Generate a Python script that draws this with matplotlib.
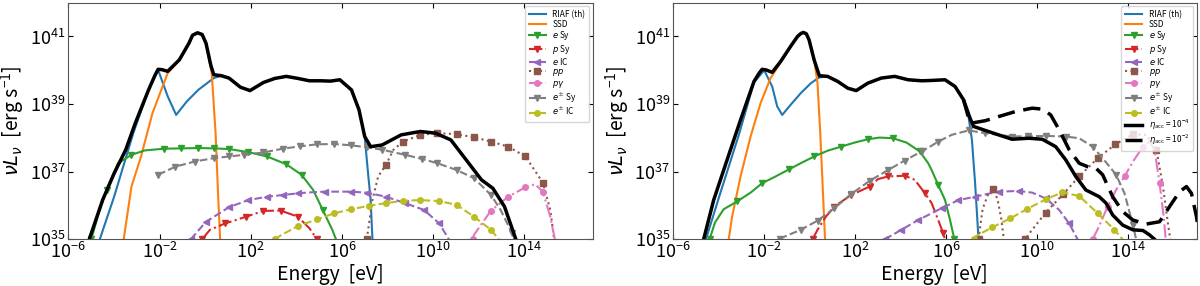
"""Two-panel broadband SED (nu L_nu vs photon energy) for the RIAF + SSD model.
Left: eta_acc = 1e-4 components. Right: same, plus the eta_acc = 1e-2 total.
All curve values are log10 readings (E in eV, L in erg/s).
"""
import matplotlib.pyplot as plt
import numpy as np

FONT = "Noto Sans CJK JP"
plt.rcParams["font.family"] = [FONT, "DejaVu Sans"]
plt.rcParams["mathtext.fontset"] = "custom"
plt.rcParams["mathtext.rm"] = FONT
plt.rcParams["mathtext.it"] = "DejaVu Sans:italic"
plt.rcParams["mathtext.bf"] = FONT + ":bold"

# ---------------- left panel (eta_acc = 1e-4) ----------------
L_TOT_E = [-5.08, -4.49, -3.99, -3.48, -3.06, -2.48, -2.20, -2.06, -1.90, -1.64, -1.13, -0.71, -0.55,
           -0.33, -0.13, 0.04, 0.25, 0.38, 0.71, 1.05, 1.55, 1.97, 2.56, 3.06, 3.56, 4.07, 4.57, 5.07,
           5.50, 5.91, 6.42, 6.75, 7.00, 7.26, 7.76, 8.60, 9.44, 10.11, 10.78, 11.45, 12.12, 12.62,
           13.13, 13.63]
L_TOT_L = [35.0, 36.17, 36.95, 37.65, 38.44, 39.42, 39.85, 40.03, 40.02, 39.97, 40.31, 40.80, 41.04,
           41.11, 41.06, 40.80, 40.15, 39.87, 39.84, 39.77, 39.50, 39.40, 39.64, 39.76, 39.82, 39.76, 39.69, 39.69,
           39.68, 39.72, 39.42, 38.83, 38.04, 37.74, 37.79, 38.09, 38.19, 38.14, 37.94, 37.35, 36.76, 36.51,
           35.97, 35.0]

L_RIAF_E = [-4.62, -3.99, -3.15, -2.48, -2.06, -1.64, -1.27, -0.80, -0.30, 0.38, 0.71, 1.05, 1.55,
            1.97, 2.56, 3.06, 3.56, 4.07, 4.57, 5.07, 5.50, 5.91, 6.42, 6.75, 7.00, 7.12, 7.26, 7.34]
L_RIAF_L = [35.0, 36.26, 38.14, 39.42, 40.01, 39.23, 38.68, 39.08, 39.42, 39.77, 39.84, 39.77, 39.50,
            39.40, 39.64, 39.76, 39.82, 39.76, 39.69, 39.69, 39.68, 39.72, 39.42, 38.83, 38.04, 37.15, 36.16, 35.0]

L_SSD_E = [-3.57, -3.23, -2.81, -2.31, -1.64, -1.13, -0.71, -0.55, -0.33, -0.13, 0.04, 0.29, 0.46,
           0.58, 0.66]
L_SSD_L = [35.0, 36.56, 37.45, 38.73, 39.92, 40.30, 40.78, 41.02, 41.09, 41.04, 40.78, 39.92, 38.14,
           36.16, 35.0]

L_ESY_E = [-4.99, -4.66, -4.32, -3.82, -3.23, -2.64, -1.81, -1.05, -0.30, 0.40, 1.05, 1.89, 2.72,
           3.56, 4.23, 4.74, 5.16, 5.58, 5.74]
L_ESY_L = [35.0, 35.8, 36.46, 37.25, 37.50, 37.63, 37.68, 37.69, 37.70, 37.69, 37.67, 37.58, 37.45,
           37.22, 36.91, 36.46, 35.87, 35.28, 35.0]

L_PSY_E = [-0.13, 0.21, 0.88, 1.35, 1.80, 2.56, 3.31, 4.07, 4.57, 4.91]
L_PSY_L = [35.0, 35.28, 35.47, 35.57, 35.67, 35.84, 35.85, 35.67, 35.33, 35.0]

L_EIC_E = [-0.63, 0.04, 1.05, 1.89, 2.72, 3.40, 4.07, 4.65, 5.24, 5.83, 6.42, 7.09, 7.93, 8.77, 9.60,
           10.27, 10.69]
L_EIC_L = [35.0, 35.52, 35.95, 36.16, 36.26, 36.31, 36.36, 36.39, 36.41, 36.41, 36.41, 36.38, 36.26,
           36.07, 35.87, 35.47, 35.0]

L_PP_E = [7.09, 7.34, 7.59, 7.93, 8.26, 8.68, 9.44, 10.19, 11.03, 11.79, 12.54, 13.30, 14.05,
          14.81, 15.14, 15.31]
L_PP_L = [35.0, 36.16, 36.86, 37.20, 37.65, 37.89, 38.09, 38.14, 38.11, 38.02, 37.89, 37.74, 37.45,
          36.68, 35.87, 35.0]

L_PG_E = [11.74, 11.79, 12.54, 13.30, 14.05, 14.47, 14.81, 15.14, 15.34]
L_PG_L = [35.0, 35.13, 35.85, 36.26, 36.54, 36.63, 36.41, 35.67, 35.0]

L_PMSY_E = [-2.06, -1.30, -0.46, 0.38, 1.05, 1.72, 2.56, 3.40, 4.15, 4.91, 5.66, 6.42, 7.10, 7.76,
            8.77, 9.50, 10.19, 11.03, 11.79, 12.54, 12.96, 13.46, 13.55]
L_PMSY_L = [36.91, 37.15, 37.30, 37.40, 37.45, 37.50, 37.57, 37.68, 37.75, 37.81, 37.82, 37.78, 37.72,
            37.65, 37.50, 37.38, 37.25, 37.05, 36.81, 36.31, 35.87, 35.18, 35.0]

L_PMIC_E = [3.06, 3.35, 4.07, 4.91, 5.66, 6.42, 7.17, 7.93, 8.68, 9.44, 10.27, 11.03, 11.79, 12.54, 12.88]
L_PMIC_L = [35.0, 35.13, 35.39, 35.59, 35.77, 35.89, 35.99, 36.07, 36.14, 36.16, 36.13, 36.02, 35.67,
            35.28, 35.0]

# ---------------- right panel ----------------
R_TOT_E = [-4.65, -4.21, -3.62, -3.03, -2.44, -2.20, -2.08, -1.90, -1.64, -1.27, -0.83, -0.53, -0.38,
           -0.27, -0.14, -0.02, 0.20, 0.43, 0.79, 1.24, 1.68, 2.05, 2.56, 3.15, 3.74, 4.33, 4.92, 5.36,
           5.95, 6.39, 6.76, 7.05, 7.20, 7.72, 8.30, 8.89, 9.63, 10.22, 10.81, 11.25, 11.69, 12.13,
           12.72, 13.02, 13.31, 13.75, 14.20, 14.64, 14.93, 15.15]
R_TOT_L = [35.0, 36.16, 37.35, 38.53, 39.67, 39.93, 40.03, 40.01, 39.94, 40.26, 40.71, 41.0, 41.09,
           41.12, 41.08, 40.90, 40.31, 39.84, 39.82, 39.67, 39.47, 39.40, 39.62, 39.77, 39.82, 39.72, 39.69, 39.70,
           39.72, 39.52, 39.13, 38.58, 38.34, 38.22, 38.09, 37.96, 37.99, 37.96, 37.74, 37.35, 36.86, 36.46,
           36.26, 36.07, 35.72, 35.42, 35.28, 35.26, 35.13, 35.0]

# eta_acc = 1e-2 total, only where it departs from the 1e-4 curve
R_TOT2_E = [6.76, 7.00, 7.13, 7.72, 8.30, 9.04, 9.78, 10.22, 10.59, 10.96, 11.40, 11.84, 12.21, 12.58,
            12.87, 13.31, 13.75, 14.20, 14.78, 15.37, 15.81, 16.25, 16.55, 16.77, 16.99, 17.14]
R_TOT2_L = [39.13, 38.55, 38.44, 38.51, 38.63, 38.78, 38.88, 38.85, 38.68, 38.24, 37.65, 37.25, 37.15, 37.10,
            36.91, 36.26, 35.82, 35.57, 35.45, 35.52, 35.97, 36.41, 36.56, 36.36, 35.67, 35.0]

R_RIAF_E = [-4.55, -3.95, -3.10, -2.44, -1.99, -1.64, -1.42, -1.20, -0.83, -0.39, 0.06, 0.43, 0.79,
            1.24, 1.68, 2.05, 2.56, 3.15, 3.74, 4.33, 4.92, 5.36, 5.95, 6.39, 6.76, 6.98, 7.13, 7.27, 7.42]
R_RIAF_L = [35.0, 36.3, 38.1, 39.64, 40.0, 39.52, 38.93, 38.68, 38.98, 39.32, 39.62, 39.79, 39.82,
            39.67, 39.47, 39.40, 39.62, 39.77, 39.82, 39.72, 39.69, 39.70, 39.72, 39.52, 39.13, 38.63, 37.94,
            36.66, 35.0]

R_SSD_E = [-3.55, -3.40, -3.03, -2.59, -2.15, -1.71, -1.49, -1.27, -0.83, -0.53, -0.38, -0.27, -0.14,
           -0.02, 0.20, 0.35, 0.47, 0.57, 0.68]
R_SSD_L = [35.0, 35.67, 36.86, 38.04, 39.03, 39.77, 40.0, 40.24, 40.69, 40.98, 41.07, 41.10, 41.06,
           40.88, 40.34, 39.62, 38.14, 36.66, 35.0]

R_ESY_E = [-4.39, -4.15, -3.77, -3.18, -2.59, -2.08, -1.49, -0.90, -0.39, 0.20, 0.79, 1.38, 1.97,
           2.56, 3.08, 3.67, 4.26, 4.84, 5.21, 5.36, 5.65, 5.95, 6.17, 6.36]
R_ESY_L = [35.0, 35.5, 35.89, 36.12, 36.38, 36.66, 36.86, 37.07, 37.25, 37.45, 37.62, 37.74, 37.86,
           37.96, 38.01, 37.99, 37.86, 37.60, 37.25, 37.05, 36.61, 36.16, 35.57, 35.0]

R_PSY_E = [0.13, 0.35, 0.72, 1.09, 1.83, 2.64, 3.00, 3.45, 4.18, 4.62, 5.07, 5.36, 5.65, 5.87, 5.95]
R_PSY_L = [35.0, 35.28, 35.67, 35.97, 36.31, 36.56, 36.78, 36.86, 36.88, 36.76, 36.36, 36.07, 35.57,
           35.18, 35.0]

R_EIC_E = [3.30, 4.03, 4.77, 5.36, 5.80, 6.54, 7.27, 7.80, 8.30, 9.19, 9.78, 10.37, 10.96, 11.40, 11.77]
R_EIC_L = [35.0, 35.28, 35.57, 35.77, 35.92, 36.16, 36.26, 36.34, 36.41, 36.43, 36.38, 36.21, 35.87,
           35.47, 35.0]

R_PP_E = [7.42, 7.60, 7.85, 8.04, 8.25, 8.42, 8.53, 8.90, 9.30, 9.48, 9.60, 10.37, 11.14, 11.84,
          12.65, 13.43, 14.20, 14.79, 15.23, 15.52, 15.74, 15.84]
R_PP_L = [35.0, 35.9, 36.35, 36.48, 36.2, 35.6, 35.0, 34.3, 34.3, 35.0, 35.13, 35.79, 36.34, 36.86,
          37.40, 37.81, 38.11, 38.09, 37.65, 36.56, 35.45, 35.0]

R_PG_E = [12.43, 12.69, 13.09, 13.46, 13.83, 14.20, 14.64, 14.93, 15.15, 15.37, 15.55, 15.64]
R_PG_L = [35.0, 35.35, 35.97, 36.46, 36.86, 37.30, 37.74, 37.89, 37.65, 36.66, 35.67, 35.0]

R_PMSY_E = [-1.30, -1.20, -0.39, 0.35, 1.09, 1.83, 2.64, 3.45, 4.18, 4.92, 5.36, 5.65, 6.24, 6.98,
            7.72, 8.89, 9.60, 10.37, 11.25, 11.84, 12.43, 12.87, 13.46, 13.83, 14.20, 14.34]
R_PMSY_L = [35.0, 35.05, 35.28, 35.55, 35.92, 36.34, 36.73, 37.05, 37.33, 37.60, 37.77, 37.89, 38.09,
            38.22, 38.14, 38.04, 38.05, 38.06, 38.04, 37.99, 37.74, 37.40, 36.91, 36.36, 35.42, 35.0]

R_PMIC_E = [7.20, 7.27, 8.01, 8.82, 9.56, 10.37, 11.10, 11.84, 12.65, 13.39, 13.75]
R_PMIC_L = [35.0, 35.08, 35.35, 35.62, 35.90, 36.18, 36.39, 36.28, 35.77, 35.28, 35.0]

# label, colour, linestyle, marker
COMPONENTS = [
    ("RIAF (th)", "C0", "-", None),
    ("SSD", "C1", "-", None),
    (r"$e$ Sy", "C2", "-", "v"),
    (r"$p$ Sy", "C3", "-.", "v"),
    (r"$e$ IC", "C4", "--", "<"),
    (r"$pp$", "C5", ":", "s"),
    (r"$p\gamma$", "C6", "-.", "o"),
    (r"$e^{\pm}$ Sy", "C7", "--", "v"),
    (r"$e^{\pm}$ IC", "C8", "--", "o"),
]

LEFT = [(L_RIAF_E, L_RIAF_L), (L_SSD_E, L_SSD_L), (L_ESY_E, L_ESY_L), (L_PSY_E, L_PSY_L),
        (L_EIC_E, L_EIC_L), (L_PP_E, L_PP_L), (L_PG_E, L_PG_L), (L_PMSY_E, L_PMSY_L),
        (L_PMIC_E, L_PMIC_L)]
RIGHT = [(R_RIAF_E, R_RIAF_L), (R_SSD_E, R_SSD_L), (R_ESY_E, R_ESY_L), (R_PSY_E, R_PSY_L),
         (R_EIC_E, R_EIC_L), (R_PP_E, R_PP_L), (R_PG_E, R_PG_L), (R_PMSY_E, R_PMSY_L),
         (R_PMIC_E, R_PMIC_L)]


def pw(v):
    return np.power(10.0, np.asarray(v))


def mark_idx(le, ll, step=0.62):
    # markers roughly evenly spaced in log E, only on visible points
    idx, nxt = [], None
    for i, (x, y) in enumerate(zip(le, ll)):
        if y < 35.0:
            continue
        if nxt is None or x >= nxt:
            idx.append(i)
            nxt = x + step
    return idx


def draw_panel(ax, curves, tot, tot2=None):
    for (lab, col, ls, mk), (le, ll) in zip(COMPONENTS, curves):
        ax.plot(pw(le), pw(ll), color=col, ls=ls, lw=1.5, marker=mk, ms=4,
                markevery=mark_idx(le, ll) if mk else None, label=lab)
    if tot2 is not None:
        ax.plot(pw(tot2[0]), pw(tot2[1]), color="k", ls=(0, (5, 2.5)), lw=2.5, zorder=5)
    ax.plot(pw(tot[0]), pw(tot[1]), color="k", lw=2.5, zorder=6)
    if tot2 is not None:
        # legend proxies in the reference's order
        ax.plot([], [], color="k", lw=2.5, label=r"$\eta_{\rm acc}=10^{-4}$")
        ax.plot([], [], color="k", ls=(0, (5, 2.5)), lw=2.5, label=r"$\eta_{\rm acc}=10^{-2}$")

    ax.set_xscale("log")
    ax.set_yscale("log")
    ax.set_xlim(1e-6, 1e17)
    ax.set_ylim(1e35, 1e42)
    ax.set_xticks([1e-6, 1e-2, 1e2, 1e6, 1e10, 1e14])
    ax.set_yticks([1e35, 1e37, 1e39, 1e41])
    ax.minorticks_off()
    ax.tick_params(which="both", direction="in", top=True, right=True, labelsize=13, pad=2)
    for s in ax.spines.values():
        s.set_color("#555555")
    ax.set_xlabel("Energy  [eV]", fontsize=14, labelpad=1)
    ax.set_ylabel(r"$\nu L_\nu$  [erg s$^{-1}$]", fontsize=14, labelpad=2)
    ax.legend(loc="upper right", fontsize=6, handlelength=2.0, borderaxespad=0.4,
              labelspacing=0.05, borderpad=0.5)


def main():
    fig = plt.figure(figsize=(12, 2.86), dpi=100)
    bot, hgt = 46.7 / 286, 236.6 / 286
    ax1 = fig.add_axes([68.3 / 1200, bot, 524.4 / 1200, hgt])
    ax2 = fig.add_axes([672.9 / 1200, bot, 523.8 / 1200, hgt])
    draw_panel(ax1, LEFT, (L_TOT_E, L_TOT_L))
    draw_panel(ax2, RIGHT, (R_TOT_E, R_TOT_L), (R_TOT2_E, R_TOT2_L))
    fig.savefig("out.png", dpi=100)
    plt.close(fig)


if __name__ == "__main__":
    main()
